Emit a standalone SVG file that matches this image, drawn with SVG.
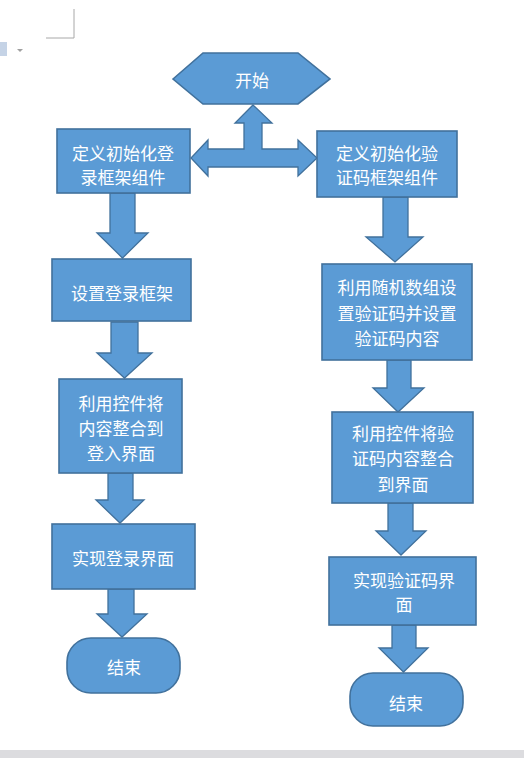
<svg xmlns="http://www.w3.org/2000/svg" width="524" height="758" viewBox="0 0 524 758">
<style>
.n{fill:#5b9bd5;stroke:#41719c;stroke-width:1.6}
.a{fill:#5b9bd5;stroke:#41719c;stroke-width:1.3;stroke-linejoin:miter}
text{font-family:"Noto Sans CJK SC","Microsoft YaHei",sans-serif;font-size:17px;fill:#ffffff;text-anchor:middle;dominant-baseline:central}
</style>
<rect x="0" y="0" width="524" height="758" fill="#ffffff"/>
<g id="page-ui">
<path d="M74 9 V38 H46" fill="none" stroke="#a8a8a8" stroke-width="1"/>
<rect x="0" y="42" width="7" height="14" fill="#c5d3e6"/>
<path d="M17 49 L23 49 L20 52 Z" fill="#a0a0a0"/>
<rect x="0" y="750" width="524" height="8" fill="#dcdcdf"/>
</g>
<g id="connectors">
<polygon class="a" points="253,105 272,123 262,123 262,149 298,149 298,140 317,158 298,176 298,167 208,167 208,176 191,158 208,140 208,149 244,149 244,123 235,123"/>
<polygon class="a" points="110,193 135,193 135,233 148,233 122.5,258 97,233 110,233"/>
<polygon class="a" points="111,322 138,322 138,353 152,353 124.5,378 97,353 111,353"/>
<polygon class="a" points="108,473 133,473 133,500 144,500 120,523 96,500 108,500"/>
<polygon class="a" points="108,589 134,589 134,614 147,614 122,637 97,614 108,614"/>
<polygon class="a" points="383,197 408,197 408,237 423,237 395,262 366,237 383,237"/>
<polygon class="a" points="387,360 411,360 411,388 424,388 398,412 373,388 387,388"/>
<polygon class="a" points="388,503 413,503 413,531 426,531 401,555 376,531 388,531"/>
<polygon class="a" points="392,625 416,625 416,648 428,648 403.5,672 379,648 392,648"/>
</g>
<g id="start">
<polygon class="n" points="173,79 203,53 298,53 330,79 298,104 203,104"/>
<text x="252" y="79">开始</text>
</g>
<g id="left-1">
<rect class="n" x="57" y="129" width="133" height="64"/>
<text x="123" y="152">定义初始化登</text>
<text x="123" y="176">录框架组件</text>
</g>
<g id="left-2">
<rect class="n" x="52" y="259" width="139" height="62"/>
<text x="122" y="292">设置登录框架</text>
</g>
<g id="left-3">
<rect class="n" x="59" y="379" width="123" height="94"/>
<text x="121" y="402">利用控件将</text>
<text x="121" y="427">内容整合到</text>
<text x="121" y="452">登入界面</text>
</g>
<g id="left-4">
<rect class="n" x="52" y="524" width="143" height="65"/>
<text x="123" y="557">实现登录界面</text>
</g>
<g id="left-end">
<rect class="n" x="67" y="638" width="113" height="55" rx="24" ry="24"/>
<text x="124" y="666">结束</text>
</g>
<g id="right-1">
<rect class="n" x="317" y="131" width="140" height="66"/>
<text x="387" y="152">定义初始化验</text>
<text x="387" y="176">证码框架组件</text>
</g>
<g id="right-2">
<rect class="n" x="322" y="264" width="150" height="96"/>
<text x="397" y="286">利用随机数组设</text>
<text x="397" y="312">置验证码并设置</text>
<text x="397" y="337">验证码内容</text>
</g>
<g id="right-3">
<rect class="n" x="332" y="412" width="141" height="91"/>
<text x="403" y="432">利用控件将验</text>
<text x="403" y="457">证码内容整合</text>
<text x="403" y="483">到界面</text>
</g>
<g id="right-4">
<rect class="n" x="329" y="557" width="147" height="68"/>
<text x="404" y="579">实现验证码界</text>
<text x="404" y="603">面</text>
</g>
<g id="right-end">
<rect class="n" x="350" y="673" width="113" height="53" rx="23" ry="23"/>
<text x="406" y="702">结束</text>
</g>
</svg>
